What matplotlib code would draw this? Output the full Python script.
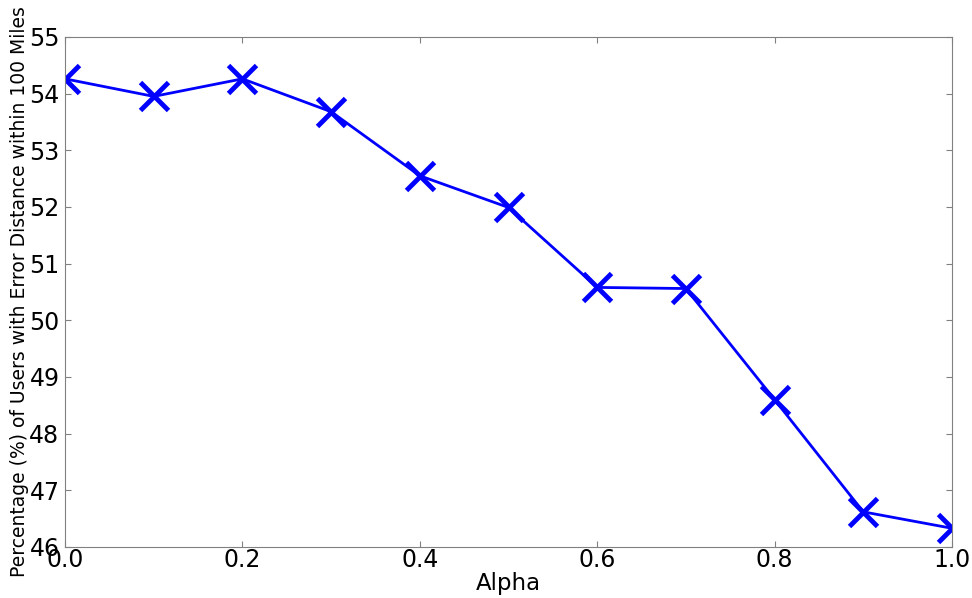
import matplotlib
matplotlib.use("Agg")
import matplotlib.pyplot as plt

alpha = [0.0, 0.1, 0.2, 0.3, 0.4, 0.5, 0.6, 0.7, 0.8, 0.9, 1.0]
pct = [54.26, 53.95, 54.26, 53.68, 52.55, 51.99, 50.58, 50.56, 48.60, 46.62, 46.33]

fig = plt.figure(figsize=(9.72, 5.98), dpi=100)
ax = fig.add_axes([0.0669, 0.0853, 0.9125, 0.853])
ax.plot(alpha, pct, color="blue", linewidth=2, marker="x",
        markersize=20, markeredgewidth=3.5)
ax.set_xlim(0, 1)
ax.set_ylim(46, 55)
ax.set_xticks([0.0, 0.2, 0.4, 0.6, 0.8, 1.0])
ax.set_yticks(range(46, 56))
ax.tick_params(direction="in", labelsize=17, length=4, color="#808080",
               top=True, right=True, pad=4)
ax.tick_params(axis="x", pad=1)
for s in ax.spines.values():
    s.set_color("#808080")
ax.set_xlabel("Alpha", fontsize=16.5, labelpad=0)
ax.set_ylabel("Percentage (%) of Users with Error Distance within 100 Miles",
              fontsize=13.5, labelpad=0)
fig.savefig("out.png", dpi=100)
